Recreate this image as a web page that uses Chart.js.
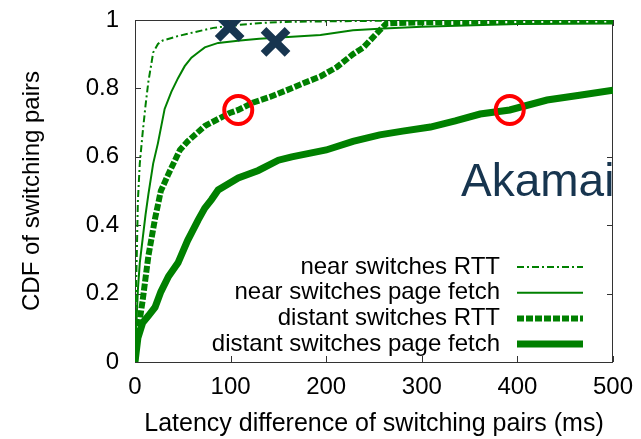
<!DOCTYPE html>
<html>
<head>
<meta charset="utf-8">
<script src="https://cdn.jsdelivr.net/npm/chart.js@4/dist/chart.umd.min.js"></script>
<style>
  html, body { margin: 0; padding: 0; background: #fff; }
  #wrap { width: 641px; height: 439px; }
</style>
</head>
<body>
<div id="wrap"><canvas id="cdfChart" width="641" height="439"></canvas></div>
<script>
// values (x in ms, y = CDF)
const seriesNames = ["near switches RTT", "near switches page fetch", "distant switches RTT", "distant switches page fetch"];

const nearRttX = [0, 0.5, 1, 2, 3, 5, 8, 11, 14, 17, 19, 24, 29, 45, 63, 82, 110, 141, 170, 200, 260, 350, 500];
const nearRttY = [0, 0.05, 0.2, 0.33, 0.47, 0.58, 0.67, 0.75, 0.82, 0.87, 0.905, 0.93, 0.94, 0.953, 0.965, 0.977, 0.986, 0.993, 0.995, 0.996, 0.998, 1.0, 1.0];

const nearPageX = [0, 1, 3, 5, 8, 11, 14, 19, 24, 31, 38, 45, 52, 59, 66, 73, 87, 110, 130, 160, 194, 228, 260, 300, 400, 500];
const nearPageY = [0, 0.08, 0.21, 0.29, 0.36, 0.43, 0.49, 0.58, 0.64, 0.74, 0.79, 0.83, 0.865, 0.89, 0.905, 0.92, 0.933, 0.94, 0.945, 0.95, 0.956, 0.97, 0.975, 0.98, 0.988, 0.99];

const distRttX = [0, 1, 3, 8, 14, 21, 27, 35, 47, 55, 73, 99, 108, 123, 141, 159, 176, 194, 211, 228, 239, 256, 263, 300, 400, 500];
const distRttY = [0, 0.04, 0.085, 0.18, 0.31, 0.42, 0.5, 0.55, 0.62, 0.645, 0.69, 0.728, 0.737, 0.758, 0.775, 0.795, 0.815, 0.835, 0.862, 0.9, 0.92, 0.97, 0.99, 0.993, 0.996, 0.998];

const distPageX = [0, 3, 8, 14, 21, 27, 35, 45, 55, 66, 73, 80, 87, 108, 129, 150, 164, 200, 228, 256, 280, 309, 335, 361, 392, 431, 465, 500];
const distPageY = [0, 0.07, 0.115, 0.135, 0.16, 0.205, 0.25, 0.29, 0.355, 0.415, 0.45, 0.475, 0.503, 0.538, 0.56, 0.59, 0.6, 0.62, 0.645, 0.664, 0.675, 0.687, 0.705, 0.725, 0.737, 0.766, 0.78, 0.795];

// highlighted spots
const crossX = [99, 147];
const crossY = [0.98, 0.936];
const circleX = [108, 392];
const circleY = [0.737, 0.737];

const xTicks = [0, 100, 200, 300, 400, 500];
const yTicks = [0, 0.2, 0.4, 0.6, 0.8, 1];

const FONT = "'Liberation Sans', Arial, Helvetica, sans-serif";
const GREEN = "#008000";
const NAVY = "#17354f";

const toPoints = (xs, ys) => xs.map((x, i) => ({ x: x, y: ys[i] }));

function lineSet(label, xs, ys, width, dash) {
    return {
        type: "line",
        label: label,
        data: toPoints(xs, ys),
        borderColor: GREEN,
        borderWidth: width,
        borderDash: dash,
        pointRadius: 0,
        tension: 0,
        fill: false,
        order: 2,
        isCurve: true
    };
}

// frame with inward ticks, mirrored on top and right (gnuplot look)
const framePlugin = {
    id: "frame",
    beforeDatasetsDraw(chart) {
        const { ctx, chartArea: a, scales } = chart;
        ctx.save();
        ctx.strokeStyle = "#333";
        ctx.lineWidth = 1;
        ctx.strokeRect(a.left + 0.5, a.top + 0.5, a.right - a.left - 1, a.bottom - a.top);
        ctx.beginPath();
        xTicks.forEach(v => {
            const px = Math.round(scales.x.getPixelForValue(v)) + 0.5;
            ctx.moveTo(px, a.bottom); ctx.lineTo(px, a.bottom - 6);
            ctx.moveTo(px, a.top); ctx.lineTo(px, a.top + 6);
        });
        yTicks.forEach(v => {
            const py = Math.round(scales.y.getPixelForValue(v)) + 0.5;
            ctx.moveTo(a.left, py); ctx.lineTo(a.left + 6, py);
            ctx.moveTo(a.right, py); ctx.lineTo(a.right - 6, py);
        });
        ctx.stroke();
        ctx.restore();
    },
    afterDraw(chart) {
        const { ctx, chartArea: a } = chart;
        ctx.save();
        // legend: text right aligned, sample line to its right
        ctx.font = "24px " + FONT;
        ctx.textAlign = "right";
        ctx.textBaseline = "middle";
        chart.data.datasets.filter(d => d.isCurve).forEach((d, i) => {
            const y = a.bottom - 95 + i * 25.7;
            ctx.fillStyle = "#000";
            ctx.fillText(d.label, a.right - 113, y);
            ctx.strokeStyle = d.borderColor;
            ctx.lineWidth = d.borderWidth;
            ctx.setLineDash(d.borderDash || []);
            ctx.beginPath();
            ctx.moveTo(a.right - 96, y);
            ctx.lineTo(a.right - 30, y);
            ctx.stroke();
        });
        ctx.setLineDash([]);
        ctx.font = "46px " + FONT;
        ctx.textAlign = "left";
        ctx.textBaseline = "alphabetic";
        ctx.fillStyle = NAVY;
        ctx.fillText("Akamai", a.right - 152, a.top + 176);
        ctx.restore();
    }
};

new Chart(document.getElementById("cdfChart").getContext("2d"), {
    data: {
        datasets: [
            lineSet(seriesNames[0], nearRttX, nearRttY, 2, [7, 3, 2, 3]),
            lineSet(seriesNames[1], nearPageX, nearPageY, 2, []),
            lineSet(seriesNames[2], distRttX, distRttY, 6, [7, 2]),
            lineSet(seriesNames[3], distPageX, distPageY, 7, []),
            {
                type: "scatter",
                data: toPoints(crossX, crossY),
                pointStyle: "crossRot",
                pointRadius: 17,
                borderWidth: 8,
                borderColor: NAVY,
                backgroundColor: NAVY,
                order: 0
            },
            {
                type: "scatter",
                data: toPoints(circleX, circleY),
                pointStyle: "circle",
                pointRadius: 14,
                borderWidth: 4,
                borderColor: "#ff0000",
                backgroundColor: "rgba(0,0,0,0)",
                order: 0
            }
        ]
    },
    options: {
        responsive: false,
        animation: false,
        layout: { autoPadding: false, padding: { top: 20, right: 28, left: 0, bottom: 0 } },
        plugins: { legend: { display: false }, tooltip: { enabled: false } },
        scales: {
            x: {
                type: "linear",
                min: 0,
                max: 500,
                afterBuildTicks: s => { s.ticks = xTicks.map(v => ({ value: v })); },
                afterFit: s => { s.height = 77; s.paddingLeft = 0; s.paddingRight = 0; },
                grid: { display: false, drawTicks: false },
                border: { display: false },
                ticks: { padding: 11, color: "#000", font: { family: FONT, size: 24 }, callback: v => String(v) },
                title: {
                    display: true,
                    text: "Latency difference of switching pairs (ms)",
                    color: "#000",
                    font: { family: FONT, size: 25 },
                    padding: { top: 0, bottom: 0 }
                }
            },
            y: {
                type: "linear",
                min: 0,
                max: 1,
                afterBuildTicks: s => { s.ticks = yTicks.map(v => ({ value: v })); },
                afterFit: s => { s.width = 135; s.paddingTop = 0; s.paddingBottom = 0; },
                grid: { display: false, drawTicks: false },
                border: { display: false },
                ticks: { padding: 16, color: "#000", font: { family: FONT, size: 24 }, callback: v => String(+v.toFixed(1)) },
                title: {
                    display: true,
                    text: "CDF of switching pairs",
                    color: "#000",
                    font: { family: FONT, size: 24 },
                    padding: { top: 18, bottom: 0 }
                }
            }
        }
    },
    plugins: [framePlugin]
});
</script>
</body>
</html>
